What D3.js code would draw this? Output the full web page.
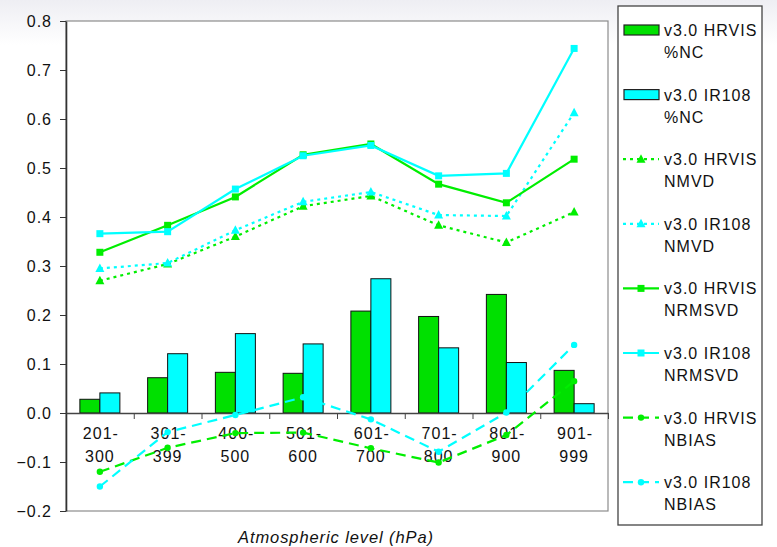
<!DOCTYPE html>
<html>
<head>
<meta charset="utf-8">
<script src="https://cdn.jsdelivr.net/npm/d3@7"></script>
<style>
  html, body { margin: 0; padding: 0; background: #ffffff; }
  svg { display: block; font-family: "Liberation Sans", Arial, sans-serif; }
</style>
</head>
<body>
<svg id="chart" width="777" height="547"></svg>
<script>
// Atmospheric level bins
const categories = [["201-", "300"], ["301-", "399"], ["400-", "500"], ["501-", "600"],
                    ["601-", "700"], ["701-", "800"], ["801-", "900"], ["901-", "999"]];
const yTicks = [-0.2, -0.1, 0.0, 0.1, 0.2, 0.3, 0.4, 0.5, 0.6, 0.7, 0.8];

// %NC (bars)
const hrvisNC = [0.028, 0.072, 0.083, 0.081, 0.208, 0.197, 0.242, 0.087];
const ir108NC = [0.041, 0.121, 0.162, 0.141, 0.274, 0.133, 0.103, 0.019];
// NMVD (dotted, triangles)
const hrvisNMVD = [0.270, 0.304, 0.360, 0.422, 0.443, 0.383, 0.348, 0.410];
const ir108NMVD = [0.295, 0.306, 0.373, 0.431, 0.451, 0.404, 0.402, 0.613];
// NRMSVD (solid, squares)
const hrvisNRMSVD = [0.328, 0.383, 0.441, 0.527, 0.549, 0.467, 0.429, 0.518];
const ir108NRMSVD = [0.366, 0.370, 0.457, 0.525, 0.546, 0.484, 0.489, 0.744];
// NBIAS (dashed, circles)
const hrvisNBIAS = [-0.120, -0.071, -0.041, -0.040, -0.072, -0.101, -0.045, 0.065];
const ir108NBIAS = [-0.150, -0.039, -0.004, 0.032, -0.013, -0.079, 0.001, 0.139];

const GREEN = "#00ee00", CYAN = "#00ffff";

const lineSeries = [
  { name: ["v3.0 HRVIS", "NMVD"],   values: hrvisNMVD,   color: GREEN, dash: "3,4", marker: "triangle" },
  { name: ["v3.0 IR108", "NMVD"],   values: ir108NMVD,   color: CYAN,  dash: "3,4", marker: "triangle" },
  { name: ["v3.0 HRVIS", "NRMSVD"], values: hrvisNRMSVD, color: GREEN, dash: null,  marker: "square" },
  { name: ["v3.0 IR108", "NRMSVD"], values: ir108NRMSVD, color: CYAN,  dash: null,  marker: "square" },
  { name: ["v3.0 HRVIS", "NBIAS"],  values: hrvisNBIAS,  color: GREEN, dash: "10,6", marker: "circle" },
  { name: ["v3.0 IR108", "NBIAS"],  values: ir108NBIAS,  color: CYAN,  dash: "10,6", marker: "circle" }
];
const barSeries = [
  { name: ["v3.0 HRVIS", "%NC"], values: hrvisNC, color: "#00e000" },
  { name: ["v3.0 IR108", "%NC"], values: ir108NC, color: CYAN }
];

const svg = d3.select("#chart");

// faint haze along the top edge
const defs = svg.append("defs");
const grad = defs.append("linearGradient").attr("id", "topHaze")
  .attr("x1", 0).attr("y1", 0).attr("x2", 0).attr("y2", 1);
grad.append("stop").attr("offset", "0%").attr("stop-color", "#eeeef3");
grad.append("stop").attr("offset", "100%").attr("stop-color", "#ffffff");
svg.append("rect").attr("x", 0).attr("y", 0).attr("width", 777).attr("height", 45)
  .attr("fill", "url(#topHaze)");

const plot = { left: 66, right: 608, top: 21, bottom: 511 };

const x = d3.scaleBand().domain(d3.range(categories.length))
  .range([plot.left, plot.right]).padding(0);
const y = d3.scaleLinear().domain([-0.2, 0.8]).range([plot.bottom, plot.top]);
const bw = x.bandwidth();
const barW = 20;

// plot area
svg.append("rect")
  .attr("x", plot.left).attr("y", plot.top)
  .attr("width", plot.right - plot.left).attr("height", plot.bottom - plot.top)
  .attr("fill", "#ffffff").attr("stroke", "#8c8c8c").attr("stroke-width", 1.2);

// value axis
const yAxis = svg.append("g").attr("transform", `translate(${plot.left},0)`)
  .call(d3.axisLeft(y).tickValues(yTicks).tickFormat(d3.format(".1f"))
    .tickSizeInner(6).tickSizeOuter(0).tickPadding(8));
yAxis.select(".domain").attr("stroke", "#333").attr("stroke-width", 1.6);
yAxis.selectAll(".tick line").attr("stroke", "#333");
yAxis.selectAll(".tick text")
  .attr("font-size", 16).attr("fill", "#111").style("letter-spacing", "1px")
  .attr("font-family", "'Liberation Sans', Arial, sans-serif");

// bars
const barG = svg.append("g");
barSeries.forEach((s, si) => {
  barG.selectAll(null).data(s.values).join("rect")
    .attr("x", (d, i) => x(i) + bw / 2 - barW + si * barW)
    .attr("y", d => y(Math.max(0, d)))
    .attr("width", barW)
    .attr("height", d => Math.abs(y(d) - y(0)))
    .attr("fill", s.color).attr("stroke", "#111").attr("stroke-width", 1);
});

// category axis along zero
const idx = d3.scaleLinear().domain([0, categories.length]).range([plot.left, plot.right]);
const xAxis = svg.append("g").attr("transform", `translate(0,${y(0)})`)
  .call(d3.axisBottom(idx).tickValues(d3.range(1, categories.length + 1))
    .tickFormat("").tickSizeInner(6).tickSizeOuter(0));
xAxis.select(".domain").attr("stroke", "#444").attr("stroke-width", 1.3);
xAxis.selectAll(".tick line").attr("stroke", "#444");

const catLabels = svg.append("g");
categories.forEach((c, i) => {
  const t = catLabels.append("text")
    .attr("x", x(i) + bw / 2).attr("y", y(0) + 26)
    .attr("text-anchor", "middle").attr("font-size", 16).attr("fill", "#111")
    .style("letter-spacing", "1px");
  t.append("tspan").attr("x", x(i) + bw / 2).attr("dx", 1).text(c[0]);
  t.append("tspan").attr("x", x(i) + bw / 2).attr("dy", 23).text(c[1]);
});

// marker drawing
function drawMarker(g, type, cx, cy, color) {
  if (type === "square") {
    g.append("rect").attr("x", cx - 3.5).attr("y", cy - 3.5).attr("width", 7).attr("height", 7)
      .attr("fill", color);
  } else if (type === "triangle") {
    g.append("path").attr("d", `M${cx},${cy - 5}L${cx + 4.5},${cy + 3.5}L${cx - 4.5},${cy + 3.5}Z`)
      .attr("fill", color);
  } else {
    g.append("circle").attr("cx", cx).attr("cy", cy).attr("r", 3.2).attr("fill", color);
  }
}

// lines
const line = d3.line().x((d, i) => x(i) + bw / 2).y(d => y(d));
const linesG = svg.append("g");
lineSeries.forEach(s => {
  linesG.append("path").datum(s.values)
    .attr("d", line).attr("fill", "none")
    .attr("stroke", s.color).attr("stroke-width", 2.2)
    .attr("stroke-dasharray", s.dash);
  s.values.forEach((v, i) => drawMarker(linesG, s.marker, x(i) + bw / 2, y(v), s.color));
});

// axis title
svg.append("text").attr("x", 336).attr("y", 543).attr("text-anchor", "middle")
  .attr("font-size", 16.5).attr("font-style", "italic").attr("fill", "#111")
  .style("letter-spacing", "0.9px")
  .text("Atmospheric level (hPa)");

// legend
const lg = svg.append("g");
lg.append("rect").attr("x", 618).attr("y", 6).attr("width", 144).attr("height", 519)
  .attr("fill", "#ffffff").attr("stroke", "#444").attr("stroke-width", 1.3);
const legendItems = [
  { kind: "bar", s: barSeries[0] }, { kind: "bar", s: barSeries[1] },
  ...lineSeries.map(s => ({ kind: "line", s }))
];
legendItems.forEach((it, k) => {
  const cy = 30 + k * 64.6;
  if (it.kind === "bar") {
    lg.append("rect").attr("x", 624).attr("y", cy - 5).attr("width", 35).attr("height", 10)
      .attr("fill", it.s.color).attr("stroke", "#222").attr("stroke-width", 1.2);
  } else {
    lg.append("line").attr("x1", 623).attr("x2", 659).attr("y1", cy).attr("y2", cy)
      .attr("stroke", it.s.color).attr("stroke-width", 2.2)
      .attr("stroke-dasharray", it.s.dash ? (it.s.marker === "triangle" ? "3,4" : "10,6") : null);
    drawMarker(lg, it.s.marker, 641, cy, it.s.color);
  }
  const t = lg.append("text").attr("x", 664).attr("y", cy + 6)
    .attr("font-size", 16).attr("fill", "#111").style("letter-spacing", "1px");
  t.append("tspan").attr("x", 664).text(it.s.name[0]);
  t.append("tspan").attr("x", 664).attr("dy", 22).text(it.s.name[1]);
});
</script>
</body>
</html>
